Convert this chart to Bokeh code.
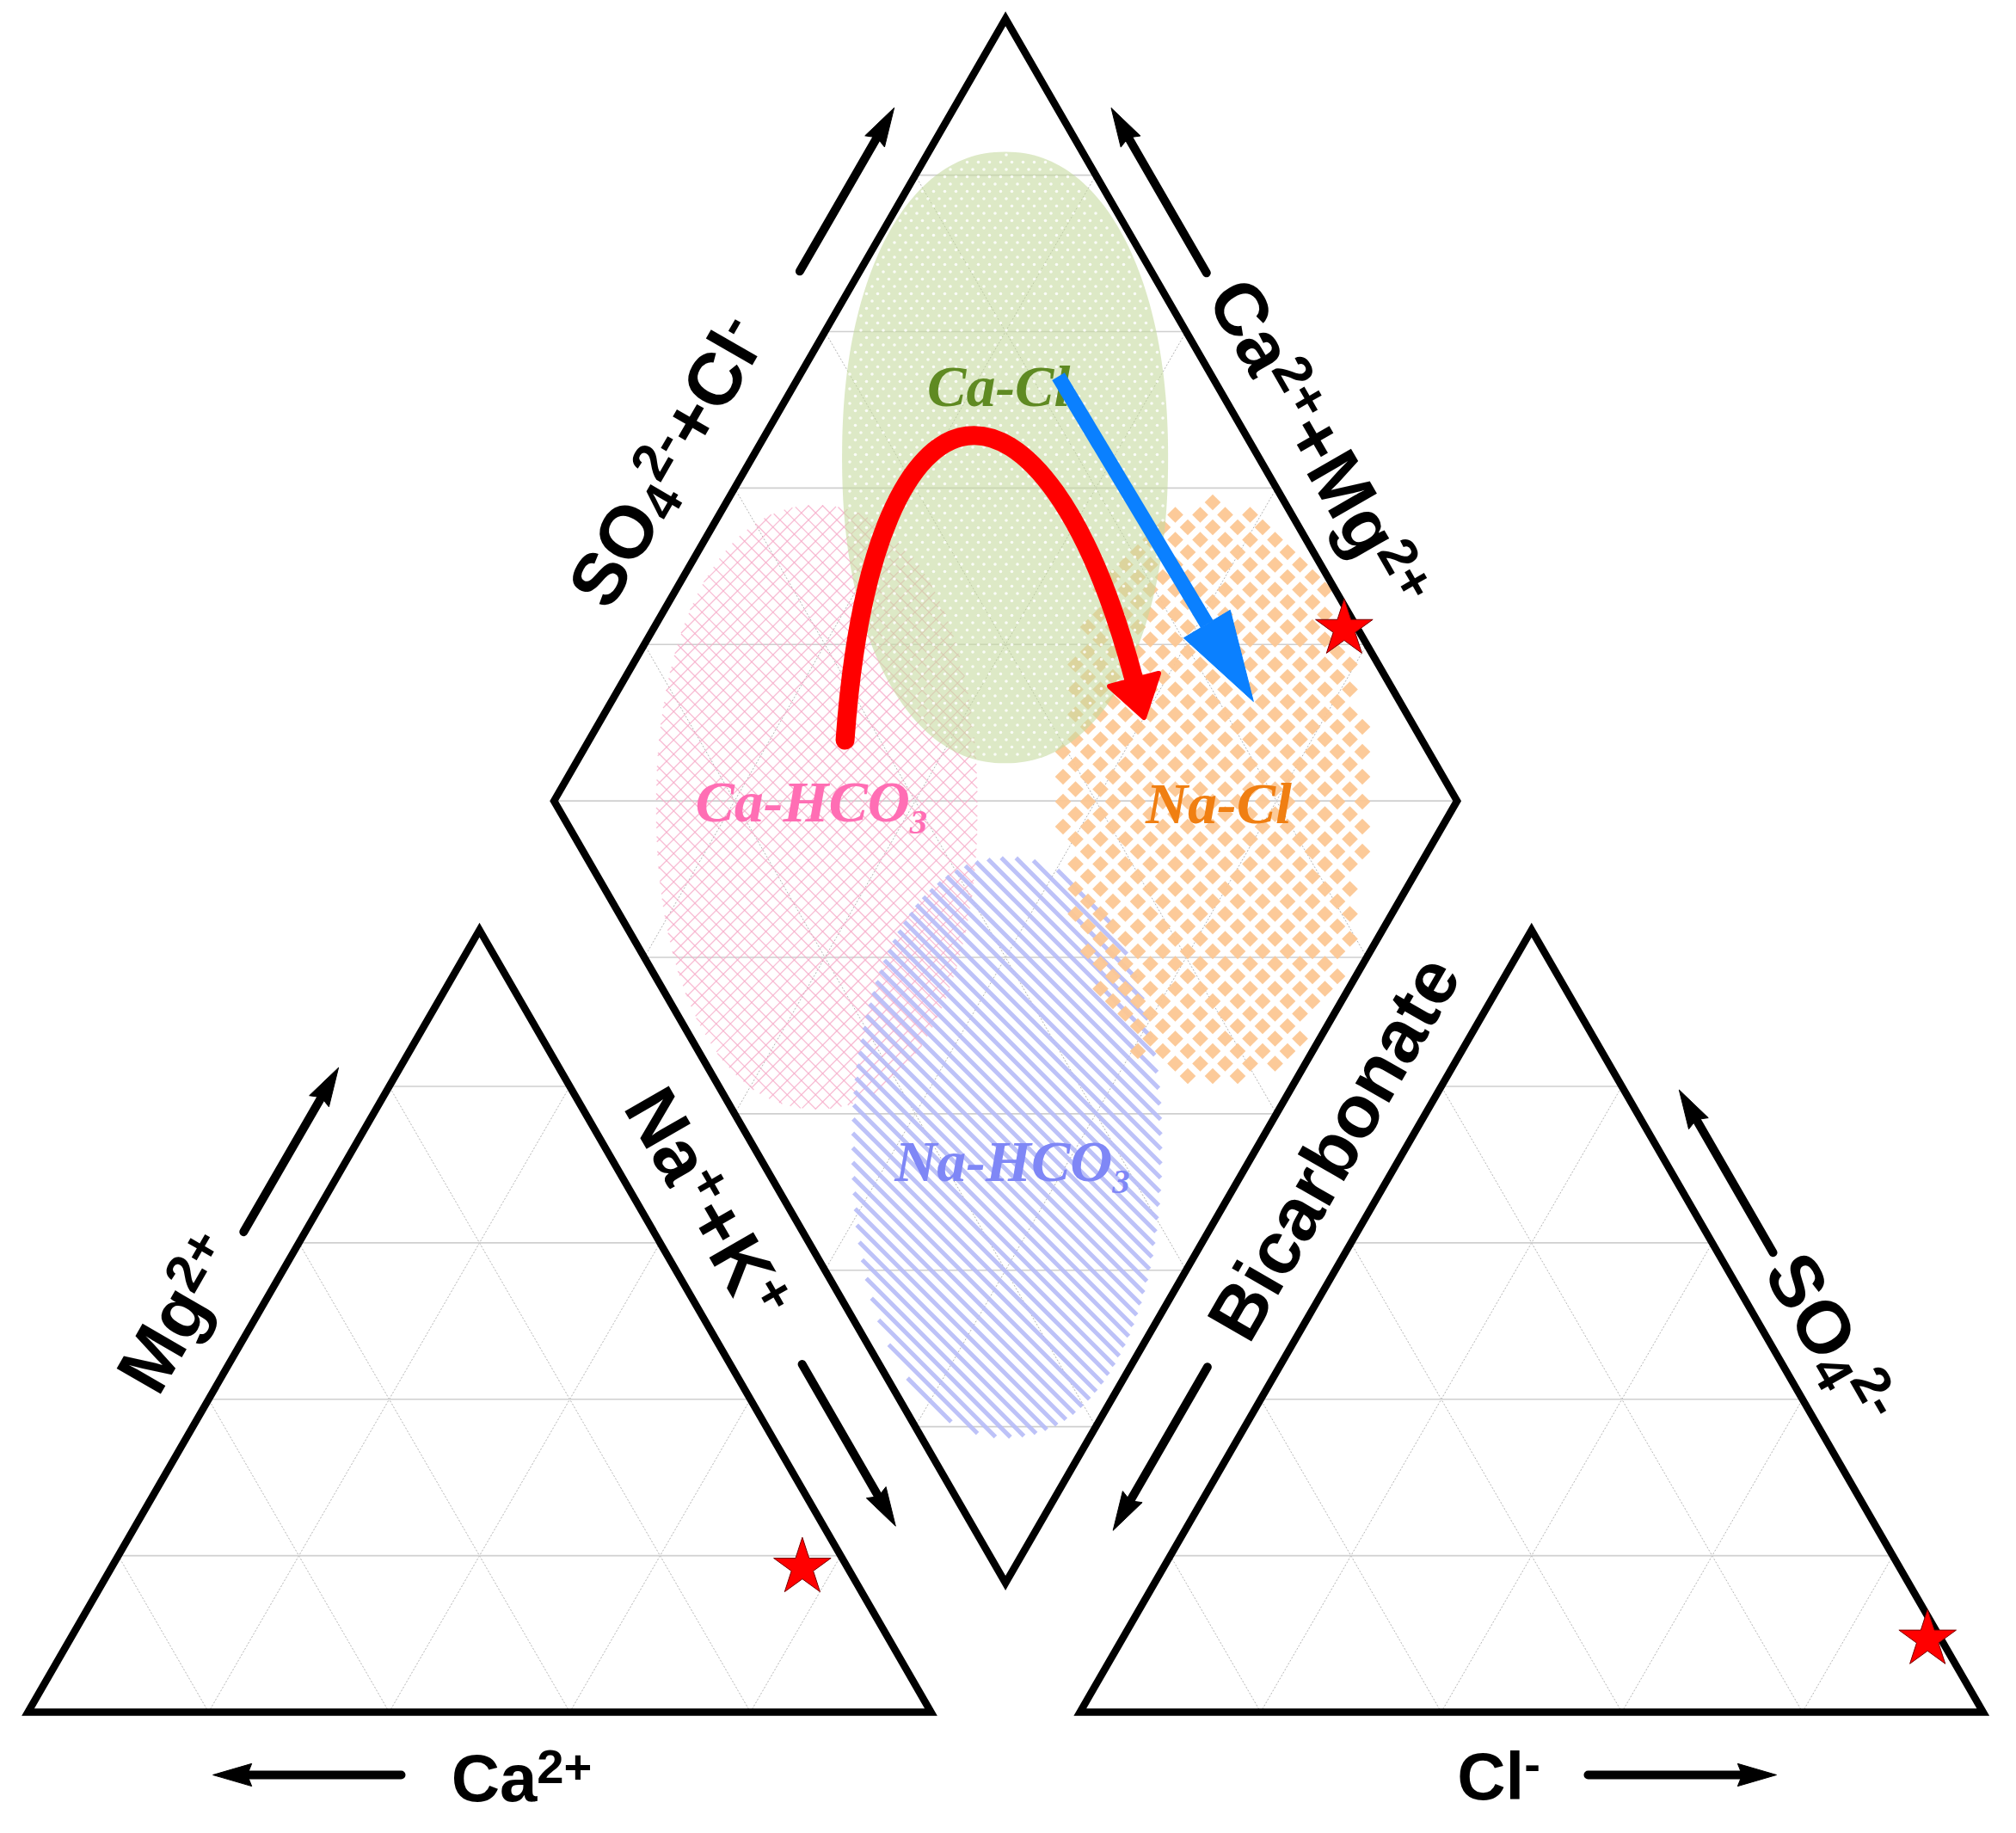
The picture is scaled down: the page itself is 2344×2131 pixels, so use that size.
import math
import numpy as np
from bokeh.plotting import figure
from bokeh.models import Range1d
from bokeh.core.properties import value
from bokeh.embed import file_html
from bokeh.resources import INLINE

# ---------------- data ----------------
cation_names = ["Ca2+", "Mg2+", "Na+ + K+"]
cation_pct = [5.0, 18.5, 76.5]            # sample composition, % meq
anion_names = ["HCO3-", "SO42-", "Cl-"]
anion_pct = [1.5, 9.3, 89.2]

facies_names = ["Ca-Cl", "Ca-HCO3", "Na-Cl", "Na-HCO3"]
facies_camg = [72.0, 70.5, 27.4, 27.7]    # zone centre, Ca2+ + Mg2+ (%)
facies_so4cl = [71.9, 28.7, 73.6, 28.0]   # zone centre, SO42- + Cl- (%)
grid_ticks = [20, 40, 60, 80]

# ---------------- geometry ----------------
SC = 10.5                       # screen px per diagram unit
HT = math.sqrt(3) / 2 * 100     # triangle height
GAP = 16.5
OX2 = 100 + GAP
B = (100 + GAP / 2, GAP * math.sqrt(3) / 2)
L = (B[0] - 50, B[1] + HT)
R = (B[0] + 50, B[1] + HT)
T = (B[0], B[1] + 2 * HT)


def dpt(a, b):
    return (B[0] + a * (L[0] - B[0]) + b * (R[0] - B[0]),
            B[1] + a * (L[1] - B[1]) + b * (R[1] - B[1]))


W_PX, H_PX = 2336, 2123
x0 = -32 / SC
x1 = x0 + W_PX / SC
y1 = 1990 / SC
y0 = y1 - H_PX / SC

p = figure(width=W_PX, height=H_PX, x_range=Range1d(x0, x1), y_range=Range1d(y0, y1),
           output_backend="svg", toolbar_location=None, min_border=0,
           x_axis_location=None, y_axis_location=None)
p.grid.visible = False
p.outline_line_color = None
p.background_fill_color = "white"
p.border_fill_color = "white"

# ---------------- grids ----------------
hx, hy, gx, gy = [], [], [], []
for ox in (0.0, OX2):
    for k in grid_ticks:
        f = k / 100
        hx.append([ox + 50 * f, ox + 100 - 50 * f]); hy.append([HT * f, HT * f])
        gx.append([ox + 100 * f, ox + 100 * f + 50 * (1 - f)]); gy.append([0, HT * (1 - f)])
        gx.append([ox + 100 * f, ox + 50 * f]); gy.append([0, HT * f])
for k in grid_ticks:
    f = k / 100
    for a0, b0, a1, b1 in ((f, 0, f, 1), (0, f, 1, f)):
        pa, pb = dpt(a0, b0), dpt(a1, b1)
        gx.append([pa[0], pb[0]]); gy.append([pa[1], pb[1]])
for m in range(1, 10):
    c = 0.2 * m
    if c <= 1:
        pa, pb = dpt(c, 0), dpt(0, c)
    else:
        pa, pb = dpt(1, c - 1), dpt(c - 1, 1)
    hx.append([pa[0], pb[0]]); hy.append([pa[1], pb[1]])

p.multi_line(gx, gy, line_color="#b4b4b4", line_width=1, line_dash="2 2")
p.multi_line(hx, hy, line_color="#cfcfcf", line_width=1.6)

# ---------------- facies zones ----------------
NEXP = 2.15


def shape(cx, cy, w, h, N=240):
    t = np.linspace(0, 2 * np.pi, N, endpoint=False)
    ct, st = np.cos(t), np.sin(t)
    return (cx + w / 2 * np.sign(ct) * np.abs(ct) ** (2 / NEXP),
            cy + h / 2 * np.sign(st) * np.abs(st) ** (2 / NEXP))


def inside(x, y, cx, cy, w, h):
    return (np.abs((x - cx) / (w / 2)) ** NEXP + np.abs((y - cy) / (h / 2)) ** NEXP) <= 1.0


def clipped_lines(cx, cy, w, h, slope, spacing_px):
    sp = spacing_px / SC
    half = (w + h) / 2
    cc = cy - slope * cx
    tt = np.linspace(cx - w / 2, cx + w / 2, 1500)
    xs, ys = [], []
    for k in range(math.floor((cc - half) / sp), math.ceil((cc + half) / sp) + 1):
        yy = slope * tt + k * sp
        msk = inside(tt, yy, cx, cy, w, h)
        if msk.sum() >= 2:
            idx = np.nonzero(msk)[0]
            xs.append([tt[idx[0]], tt[idx[-1]]]); ys.append([yy[idx[0]], yy[idx[-1]]])
    return xs, ys


def lattice(cx, cy, w, h, dx_px, dy_px):
    dx, dy = dx_px / SC, dy_px / SC
    X, Y = [], []
    for j in range(math.floor((cy - h / 2) / dy), math.ceil((cy + h / 2) / dy) + 1):
        yv = j * dy
        off = dx / 2 if j % 2 else 0.0
        xs = np.arange(math.floor((cx - w / 2 - off) / dx), math.ceil((cx + w / 2 - off) / dx) + 1) * dx + off
        msk = inside(xs, yv, cx, cy, w, h)
        X.extend(xs[msk].tolist()); Y.extend([yv] * int(msk.sum()))
    return X, Y


zone_size = {"Ca-Cl": (36.1, 67.7), "Ca-HCO3": (35.6, 66.9),
             "Na-Cl": (33.9, 64.6), "Na-HCO3": (34.2, 64.2)}
centres = {}
for name, cm, sc in zip(facies_names, facies_camg, facies_so4cl):
    centres[name] = dpt(cm / 100, sc / 100)

# Ca-HCO3: pink criss-cross
cx, cy = centres["Ca-HCO3"]; w, h = zone_size["Ca-HCO3"]
for slope in (1, -1):
    xs, ys = clipped_lines(cx, cy, w, h, slope, 16.5)
    p.multi_line(xs, ys, line_color="#f6acc9", line_width=1.3, line_alpha=0.8)

# Na-HCO3: blue diagonal stripes
cx, cy = centres["Na-HCO3"]; w, h = zone_size["Na-HCO3"]
xs, ys = clipped_lines(cx, cy, w, h, -1, 17)
p.multi_line(xs, ys, line_color="#b6bbf7", line_width=5.0, line_alpha=0.9)

# Na-Cl: orange checker diamonds
cx, cy = centres["Na-Cl"]; w, h = zone_size["Na-Cl"]
X, Y = lattice(cx, cy, w, h, 29, 14.5)
p.scatter(X, Y, marker="square", angle=math.pi / 4, size=13.2, fill_color="#fcc794",
          line_color=None, fill_alpha=0.95)

# Ca-Cl: green with white dots
cx, cy = centres["Ca-Cl"]; w, h = zone_size["Ca-Cl"]
xs, ys = shape(cx, cy, w, h)
p.patch(list(xs), list(ys), fill_color="#c6dba0", fill_alpha=0.6, line_color=None)
X, Y = lattice(cx, cy, w - 0.6, h - 0.6, 13, 8.5)
p.scatter(X, Y, marker="circle", size=3.6, fill_color="white", line_color=None, fill_alpha=0.85)

# ---------------- outlines ----------------
for ox in (0.0, OX2):
    p.patch([ox, ox + 100, ox + 50], [0, 0, HT], fill_color=None, line_color="black",
            line_width=8.5, line_join="miter")
p.patch([B[0], R[0], T[0], L[0]], [B[1], R[1], T[1], L[1]], fill_color=None,
        line_color="black", line_width=8.5, line_join="miter")

# ---------------- text helpers ----------------
AW = {'B': 722, 'C': 722, 'K': 722, 'M': 833, 'N': 722, 'O': 778, 'S': 667, 'H': 722,
      'a': 556, 'b': 611, 'c': 556, 'e': 556, 'g': 611, 'i': 278, 'l': 278, 'n': 611,
      'o': 611, 'r': 389, 't': 333, '2': 556, '3': 556, '4': 556, '+': 584, '-': 333}
TW = {'C': 667, 'a': 500, '-': 333, 'l': 278, 'H': 778, 'O': 722, 'N': 722, '3': 500}


def rich(runs, cx, cy, ang, F, font, style, color, widths, small=0.72, rise=0.27,
         drop=0.12, half_cap=0.36, corr=0.33):
    ws = []
    for txt, kind in runs:
        fs = F if kind == "n" else F * small
        ws.append(sum(widths.get(c, 600) for c in txt) / 1000 * fs / SC)
    tot = sum(ws)
    ux, uy = math.cos(ang), math.sin(ang)
    nx, ny = -uy, ux
    hc = half_cap * F / SC
    sx = cx - tot / 2 * ux - hc * nx
    sy = cy - tot / 2 * uy - hc * ny
    pos = 0.0
    for (txt, kind), w in zip(runs, ws):
        fs = F if kind == "n" else F * small
        sh = {"n": 0.0, "sup": rise * F / SC, "sub": -drop * F / SC}[kind] + corr * fs / SC
        x = sx + pos * ux + sh * nx
        y = sy + pos * uy + sh * ny
        p.text(x=[x], y=[y], text=[txt], angle=ang, text_font=value(font),
               text_font_style=style, text_font_size=f"{fs:.1f}px", text_color=color,
               text_align="left", text_baseline="alphabetic")
        pos += w


def arrow(tail, tip, color="black", lw=10, head_len=4.3, head_hw=1.25, notch=0.5, cap="round"):
    dx, dy = tip[0] - tail[0], tip[1] - tail[1]
    n = math.hypot(dx, dy)
    ux, uy = dx / n, dy / n
    px_, py_ = -uy, ux
    bx, by = tip[0] - head_len * ux, tip[1] - head_len * uy
    p.line([tail[0], bx + notch * ux], [tail[1], by + notch * uy], line_color=color,
           line_width=lw, line_cap=cap)
    p.patch([tip[0], bx + head_hw * px_, bx + notch * ux, bx - head_hw * px_],
            [tip[1], by + head_hw * py_, by + notch * uy, by - head_hw * py_],
            fill_color=color, line_color=color, line_width=1)


def on_edge(P, Q, frac, d, nrm):
    return (P[0] + frac * (Q[0] - P[0]) + d * nrm[0], P[1] + frac * (Q[1] - P[1]) + d * nrm[1])

s60, c60 = math.sin(math.pi / 3), 0.5
A60, M60 = math.pi / 3, -math.pi / 3
FR, FB = 86, 78

# (runs, P, Q, normal, angle, font, text pos, text dist, arrow tail, arrow tip, arrow dist)
axis_labels = [
    ([("Mg", "n"), ("2+", "sup")], (0, 0), (50, HT), (-s60, c60), A60, FR, 0.466, 8.0, 0.58, 0.79, 5.9),
    ([("Na", "n"), ("+", "sup"), ("+K", "n"), ("+", "sup")], (50, HT), (100, 0), (s60, c60), M60, FR,
     0.389, 7.0, 0.595, 0.802, 6.9),
    ([("SO", "n"), ("4", "sub"), ("2-", "sup"), ("+Cl", "n"), ("-", "sup")], L, T, (-s60, c60), A60, FR,
     0.388, 8.2, 0.644, 0.853, 5.75),
    ([("Ca", "n"), ("2+", "sup"), ("+Mg", "n"), ("2+", "sup")], T, R, (s60, c60), M60, FR,
     0.581, 6.8, 0.355, 0.144, 5.2),
    ([("Bicarbonate", "n")], B, R, (s60, -c60), A60, FR, 0.599, 7.1, 0.319, 0.110, 7.4),
    ([("SO", "n"), ("4", "sub"), ("2-", "sup")], (OX2 + 50, HT), (OX2 + 100, 0), (s60, c60), M60, FR,
     0.558, 6.3, 0.443, 0.235, 5.3),
    ([("Ca", "n"), ("2+", "sup")], (0, 0), (100, 0), (0, -1), 0.0, FB, 0.5467, 7.1, 0.4133, 0.2048, 6.95),
    ([("Cl", "n"), ("-", "sup")], (OX2, 0), (OX2 + 100, 0), (0, -1), 0.0, FB, 0.4636, 6.9, 0.5626, 0.7712, 6.95),
]
for runs, P, Q, nrm, ang, F, tt, td, at0, at1, ad in axis_labels:
    cx, cy = on_edge(P, Q, tt, td, nrm)
    rich(runs, cx, cy, ang, F, "Liberation Sans", "bold", "black", AW)
    arrow(on_edge(P, Q, at0, ad, nrm), on_edge(P, Q, at1, ad, nrm))

# ---------------- facies labels ----------------
FF = 68
fac_runs = {"Ca-Cl": [("Ca-Cl", "n")], "Ca-HCO3": [("Ca-HCO", "n"), ("3", "sub")],
            "Na-Cl": [("Na-Cl", "n")], "Na-HCO3": [("Na-HCO", "n"), ("3", "sub")]}
fac_color = {"Ca-Cl": "#5f8a22", "Ca-HCO3": "#ff6eb4", "Na-Cl": "#f07f12", "Na-HCO3": "#7f87f6"}
fac_off = {"Ca-Cl": (-0.7, 5.6), "Ca-HCO3": (-0.6, -1.7), "Na-Cl": (0.5, -3.4), "Na-HCO3": (0.6, -3.8)}
for name in facies_names:
    cx, cy = centres[name]
    ox, oy = fac_off[name]
    rich(fac_runs[name], cx + ox, cy + oy + 0.33 * FF / SC, 0.0, FF, "Liberation Serif",
         "bold italic", fac_color[name], TW, small=0.6, drop=0.21, half_cap=0.33, corr=0.35)

# ---------------- evolution arrows ----------------
P0, P1, P2, P3 = (90.48, 107.62), (93.62, 151.43), (112.67, 151.43), (122.48, 114.29)
p.bezier(x0=[P0[0]], y0=[P0[1]], x1=[P3[0]], y1=[P3[1]], cx0=[P1[0]], cy0=[P1[1]],
         cx1=[P2[0]], cy1=[P2[1]], line_color="#ff0000", line_width=22, line_cap="round")
dx, dy = P3[0] - P2[0], P3[1] - P2[1]
nn = math.hypot(dx, dy)
ux, uy = dx / nn, dy / nn
tipx, tipy = P3[0] + 4.3 * ux, P3[1] + 4.3 * uy
p.patch([tipx, P3[0] - uy * 2.8, P3[0] + uy * 2.8], [tipy, P3[1] + ux * 2.8, P3[1] - ux * 2.8],
        fill_color="#ff0000", line_color="#ff0000", line_width=6, line_join="round")

arrow((114.1, 147.9), (135.7, 111.9), color="#0a80ff", lw=17, head_len=10.0, head_hw=3.0,
      notch=0.0, cap="butt")

# ---------------- sample points ----------------
ca, mg, nak = cation_pct
hco3, so4, cl = anion_pct
sx_ = [nak + mg / 2, OX2 + cl + so4 / 2]
sy_ = [mg * HT / 100, so4 * HT / 100]
dp = dpt((ca + mg) / 100, (so4 + cl) / 100)
sx_.append(dp[0]); sy_.append(dp[1])
p.scatter(sx_, sy_, marker="star", size=70, fill_color="#ff0000", line_color="#7a0000",
          line_width=1)

open("out.html", "w").write(file_html(p, INLINE))
